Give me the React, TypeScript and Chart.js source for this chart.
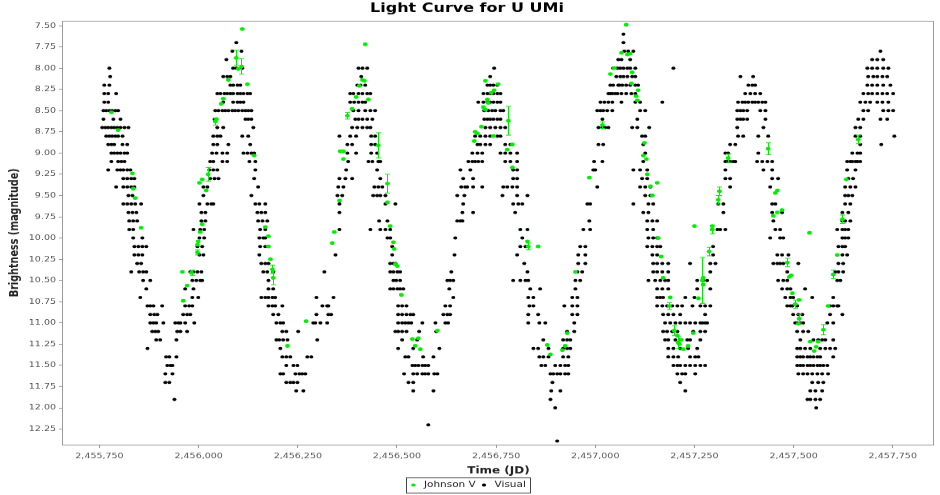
import { useEffect, useRef } from "react";
import { Chart, registerables } from "chart.js";

Chart.register(...registerables);

const CHART_TITLE = "Light Curve for U UMi";
const X_TITLE = "Time (JD)";
const Y_TITLE = "Brightness (magnitude)";
const SERIES_NAMES = ["Johnson V", "Visual"];
const X_RANGE = [2455658, 2457854];
const Y_RANGE = [7.442, 12.433];
const X_TICKS = [2455750, 2456000, 2456250, 2456500, 2456750, 2457000, 2457250, 2457500, 2457750];
const Y_TICKS = [7.5, 7.75, 8.0, 8.25, 8.5, 8.75, 9.0, 9.25, 9.5, 9.75, 10.0, 10.25, 10.5, 10.75, 11.0, 11.25, 11.5, 11.75, 12.0, 12.25];

type Row = [number, number[]];

// Visual estimates: [magnitude, [JD, ...]]
const visualCycle1: Row[] = [
  [8.0, [2455775]],
  [8.1, [2455777]],
  [8.2, [2455762, 2455775]],
  [8.3, [2455762, 2455772, 2455792]],
  [8.4, [2455762, 2455772]],
  [8.5, [2455760, 2455767, 2455775, 2455782, 2455790, 2455797]],
  [8.6, [2455760, 2455785, 2455803]],
  [8.7, [2455757, 2455765, 2455772, 2455780, 2455787, 2455795, 2455803, 2455813, 2455823]],
  [8.8, [2455767, 2455775, 2455782, 2455790, 2455797, 2455808]],
  [8.9, [2455772, 2455780, 2455787, 2455808, 2455820]],
  [9.0, [2455780, 2455787, 2455795, 2455803, 2455813, 2455820]],
  [9.1, [2455780, 2455797, 2455805, 2455813]],
  [9.2, [2455772, 2455795, 2455803, 2455810, 2455820, 2455828]],
  [9.3, [2455810, 2455820, 2455830, 2455838]],
  [9.4, [2455792, 2455810, 2455820, 2455830, 2455838]],
  [9.5, [2455823, 2455833]],
  [9.6, [2455810, 2455820, 2455830, 2455840, 2455855]],
  [9.7, [2455823, 2455833, 2455843]],
  [9.8, [2455825, 2455835, 2455845]],
  [9.9, [2455825, 2455835]],
  [10.0, [2455835, 2455858]],
  [10.1, [2455838, 2455848, 2455858, 2455868]],
  [10.2, [2455838, 2455848, 2455858]],
  [10.3, [2455845, 2455855]],
  [10.4, [2455830, 2455850, 2455860, 2455868]],
  [10.5, [2455860, 2455878]],
  [10.6, [2455868]],
  [10.7, [2455853]],
  [10.8, [2455871, 2455878, 2455886, 2455908]],
  [10.9, [2455878, 2455888, 2455896]],
  [11.0, [2455878, 2455886, 2455893, 2455911]],
  [11.1, [2455883, 2455891, 2455898]],
  [11.2, [2455893, 2455903]],
  [11.3, [2455871]],
  [11.4, [2455918, 2455926]],
  [11.5, [2455921, 2455929, 2455934]],
  [11.6, [2455916, 2455934]],
  [11.7, [2455916, 2455926]],
  [11.9, [2455939]],
];

const visualCycle2: Row[] = [
  [11.0, [2455941, 2455949, 2455954, 2455966, 2455989]],
  [11.1, [2455946, 2455954, 2455971]],
  [11.2, [2455944]],
  [11.4, [2455944]],
  [10.9, [2455961, 2455971, 2455979]],
  [10.8, [2455966, 2455976, 2455984]],
  [10.7, [2455984, 2455999]],
  [10.6, [2455966, 2455987]],
  [10.5, [2455984, 2455994, 2456004, 2456009]],
  [10.4, [2455979, 2455987, 2455997, 2456007]],
  [10.2, [2456002, 2456012]],
  [10.1, [2455997, 2456009]],
  [10.0, [2456002, 2456014]],
  [9.9, [2455987, 2456004, 2456014]],
  [9.8, [2456007, 2456017]],
  [9.7, [2456007, 2456017]],
  [9.6, [2456002, 2456022, 2456032, 2456037]],
  [9.5, [2456012]],
  [9.4, [2456012, 2456022]],
  [9.3, [2456029, 2456040, 2456050]],
  [9.2, [2456027, 2456037, 2456047]],
  [9.1, [2456029, 2456037, 2456060, 2456072]],
  [9.0, [2456034, 2456045, 2456060, 2456072]],
  [8.9, [2456037, 2456047, 2456075]],
  [8.8, [2456037, 2456047, 2456055]],
  [8.7, [2456047, 2456062]],
  [8.6, [2456040]],
  [8.5, [2456042, 2456050, 2456060, 2456067, 2456075, 2456085, 2456092, 2456100, 2456110, 2456118, 2456125, 2456133]],
  [8.4, [2456062, 2456087, 2456098, 2456105, 2456113]],
  [8.3, [2456047, 2456055, 2456065, 2456072, 2456080, 2456087, 2456098, 2456105, 2456113, 2456123, 2456130]],
  [8.2, [2456080, 2456087, 2456098, 2456105]],
  [8.1, [2456062, 2456072, 2456080]],
  [8.0, [2456087, 2456095, 2456110]],
  [7.9, [2456070]],
  [7.8, [2456085, 2456108]],
  [7.7, [2456095]],
  [8.6, [2456118, 2456125, 2456133]],
  [8.7, [2456138]],
  [8.8, [2456110, 2456125]],
  [8.9, [2456130]],
  [9.0, [2456113, 2456123, 2456133, 2456140]],
  [9.1, [2456128, 2456143]],
  [9.2, [2456143]],
  [9.3, [2456140]],
  [9.4, [2456150]],
  [9.5, [2456133]],
  [9.6, [2456143, 2456153, 2456168]],
  [9.7, [2456148, 2456158, 2456168]],
  [9.8, [2456150, 2456161, 2456173]],
  [9.9, [2456155, 2456168]],
  [10.0, [2456153, 2456163, 2456168]],
  [10.1, [2456155, 2456168]],
  [10.2, [2456153]],
  [10.3, [2456158, 2456168, 2456176]],
  [10.4, [2456163, 2456173, 2456188]],
  [10.5, [2456176]],
  [10.6, [2456176, 2456188]],
  [10.7, [2456158, 2456168, 2456176, 2456186, 2456193]],
  [10.8, [2456176, 2456186, 2456193, 2456211]],
  [10.9, [2456188, 2456201]],
  [11.0, [2456196, 2456206, 2456213]],
  [11.1, [2456211, 2456221, 2456251]],
  [11.2, [2456196, 2456203, 2456213, 2456224]],
  [11.3, [2456206]],
  [11.4, [2456211, 2456221, 2456231, 2456274, 2456284]],
  [11.5, [2456221, 2456239, 2456249]],
  [11.6, [2456206, 2456213, 2456244, 2456254, 2456261, 2456269]],
  [11.7, [2456221, 2456231, 2456239, 2456249]],
  [11.8, [2456246, 2456264]],
];

const visualCycle3: Row[] = [
  [11.0, [2456289, 2456294, 2456307, 2456324]],
  [11.2, [2456299]],
  [10.9, [2456297, 2456327, 2456334]],
  [10.8, [2456312, 2456324, 2456327]],
  [10.7, [2456297, 2456340]],
  [10.4, [2456317]],
  [10.2, [2456345]],
  [9.9, [2456355]],
  [9.7, [2456355]],
  [9.6, [2456355]],
  [9.5, [2456350, 2456362]],
  [9.4, [2456352, 2456365]],
  [9.3, [2456355, 2456370, 2456387]],
  [9.2, [2456372]],
  [9.1, [2456377, 2456428, 2456438, 2456453, 2456458]],
  [9.0, [2456375, 2456397, 2456435, 2456450]],
  [8.9, [2456375, 2456387, 2456435, 2456445]],
  [8.8, [2456355, 2456382, 2456397, 2456435, 2456445]],
  [8.7, [2456387, 2456400, 2456413, 2456425, 2456433]],
  [8.6, [2456395, 2456403, 2456413, 2456425, 2456438]],
  [8.5, [2456390, 2456403, 2456420, 2456433, 2456445]],
  [8.4, [2456382, 2456392, 2456403, 2456413, 2456420]],
  [8.3, [2456382, 2456390, 2456403, 2456413, 2456425, 2456433]],
  [8.2, [2456400, 2456408, 2456420]],
  [8.1, [2456410]],
  [8.0, [2456403, 2456413, 2456425]],
  [9.2, [2456450]],
  [9.3, [2456458]],
  [9.4, [2456443, 2456453, 2456463]],
  [9.5, [2456440, 2456450, 2456458, 2456471]],
  [9.6, [2456471, 2456496]],
  [9.8, [2456455, 2456476]],
  [9.9, [2456433, 2456458, 2456471, 2456483]],
  [10.0, [2456476, 2456483]],
  [10.1, [2456488]],
  [10.2, [2456488]],
  [10.3, [2456483, 2456491, 2456496]],
  [10.4, [2456483, 2456491, 2456501, 2456508]],
  [10.5, [2456491, 2456498, 2456508]],
  [10.6, [2456483, 2456491, 2456501, 2456508, 2456516]],
  [10.8, [2456503, 2456513, 2456524]],
  [10.9, [2456503, 2456513, 2456524, 2456534, 2456541]],
  [11.0, [2456503, 2456513, 2456521, 2456529, 2456536, 2456564, 2456597]],
  [11.1, [2456496, 2456503, 2456513, 2456524, 2456556, 2456599]],
  [11.2, [2456513, 2456551]],
  [11.3, [2456503, 2456541, 2456607]],
  [11.4, [2456521, 2456529, 2456566, 2456592]],
  [11.5, [2456539, 2456546, 2456554, 2456564, 2456571, 2456579]],
  [11.6, [2456518, 2456541, 2456551, 2456564, 2456571, 2456579, 2456594, 2456602]],
  [11.7, [2456529, 2456541]],
  [11.8, [2456541, 2456592]],
  [12.2, [2456579]],
];

const visualCycle4: Row[] = [
  [10.8, [2456622, 2456634]],
  [10.9, [2456617, 2456627, 2456634]],
  [11.0, [2456622, 2456629]],
  [10.7, [2456642]],
  [10.6, [2456632]],
  [10.5, [2456627, 2456634, 2456642]],
  [10.4, [2456637]],
  [10.2, [2456645]],
  [10.0, [2456647]],
  [9.8, [2456652, 2456660, 2456665]],
  [9.7, [2456665, 2456692]],
  [9.6, [2456667]],
  [9.5, [2456652, 2456670]],
  [9.4, [2456662, 2456672, 2456677, 2456692, 2456715]],
  [9.3, [2456667, 2456692]],
  [9.2, [2456660, 2456685]],
  [9.1, [2456680, 2456690, 2456697, 2456705, 2456715, 2456773, 2456786, 2456803]],
  [9.0, [2456690, 2456703, 2456715, 2456761, 2456773, 2456786, 2456803]],
  [8.9, [2456703, 2456710, 2456723, 2456735, 2456773, 2456786]],
  [8.8, [2456697, 2456710, 2456723, 2456735, 2456753, 2456761]],
  [8.7, [2456723, 2456735, 2456748, 2456761, 2456773]],
  [8.6, [2456720, 2456728, 2456735, 2456743, 2456753, 2456761]],
  [8.5, [2456720, 2456730, 2456740, 2456748, 2456761, 2456768]],
  [8.4, [2456705, 2456718, 2456728, 2456735, 2456743, 2456753, 2456761]],
  [8.3, [2456718, 2456728, 2456735, 2456743, 2456753, 2456761]],
  [8.2, [2456728, 2456735, 2456743, 2456753]],
  [8.1, [2456735]],
  [8.0, [2456745]],
  [9.2, [2456793, 2456803]],
  [9.3, [2456793, 2456803]],
  [9.4, [2456768, 2456778, 2456791, 2456803]],
  [9.5, [2456766, 2456803, 2456829]],
  [9.6, [2456793, 2456806, 2456816]],
  [9.7, [2456798]],
  [9.9, [2456811, 2456829]],
  [10.0, [2456816]],
  [10.1, [2456811, 2456824]],
  [10.2, [2456803]],
  [10.3, [2456821]],
  [10.4, [2456829]],
  [10.5, [2456793, 2456811, 2456824, 2456831]],
  [10.6, [2456836, 2456861]],
  [10.7, [2456831, 2456844]],
  [10.8, [2456834, 2456844]],
  [10.9, [2456831, 2456856]],
  [11.0, [2456831, 2456859, 2456874]],
  [11.2, [2456869]],
  [11.3, [2456844, 2456856, 2456882]],
  [11.4, [2456859, 2456869, 2456882]],
  [11.5, [2456864, 2456874, 2456899, 2456912]],
  [11.6, [2456887, 2456894, 2456904, 2456912]],
  [11.7, [2456892]],
  [11.8, [2456889, 2456912]],
  [11.9, [2456887]],
  [12.0, [2456899]],
  [12.39, [2456904]],
];

const visualCycle5: Row[] = [
  [11.5, [2456924, 2456932]],
  [11.6, [2456924, 2456932]],
  [11.4, [2456919, 2456932]],
  [11.3, [2456919, 2456929, 2456937]],
  [11.2, [2456919, 2456929, 2456937]],
  [11.1, [2456929, 2456947]],
  [11.0, [2456947]],
  [10.9, [2456942, 2456955]],
  [10.8, [2456922, 2456942, 2456955]],
  [10.7, [2456942, 2456955]],
  [10.6, [2456950]],
  [10.5, [2456950, 2456962]],
  [10.4, [2456955, 2456967]],
  [10.3, [2456957, 2456975]],
  [10.2, [2456957, 2456975]],
  [10.1, [2456962, 2456975]],
  [9.9, [2456970, 2456987]],
  [9.8, [2456985]],
  [9.6, [2456980, 2456987]],
  [9.4, [2457005]],
  [9.2, [2456995, 2457000]],
  [9.1, [2456997, 2457018]],
  [8.9, [2457008, 2457020]],
  [8.7, [2457008, 2457018, 2457025, 2457033]],
  [8.6, [2457018]],
  [8.5, [2457005, 2457013, 2457020, 2457030, 2457043]],
  [8.4, [2457013, 2457023, 2457033, 2457043, 2457066, 2457101, 2457113, 2457169]],
  [8.3, [2457033, 2457038, 2457043, 2457050, 2457056, 2457066, 2457078, 2457091, 2457101]],
  [8.2, [2457038, 2457045, 2457058, 2457061, 2457068, 2457078, 2457088, 2457101, 2457108]],
  [8.1, [2457053, 2457063, 2457071, 2457081, 2457093, 2457101]],
  [8.0, [2457045, 2457056, 2457063, 2457071, 2457081, 2457088, 2457101, 2457197]],
  [7.9, [2457058, 2457066, 2457088]],
  [7.8, [2457073, 2457083, 2457096]],
  [7.7, [2457071]],
  [7.6, [2457071]],
  [8.5, [2457113, 2457126]],
  [8.6, [2457106]],
  [8.7, [2457093, 2457106, 2457136]],
  [8.8, [2457118, 2457126]],
  [8.9, [2457121]],
  [9.0, [2457126]],
  [9.1, [2457121]],
  [9.2, [2457096, 2457113, 2457131]],
  [9.3, [2457118, 2457131]],
  [9.4, [2457113, 2457126, 2457139]],
  [9.5, [2457126, 2457139]],
  [9.6, [2457096, 2457134, 2457146]],
  [9.7, [2457121, 2457134]],
  [9.8, [2457131, 2457144, 2457156]],
  [9.9, [2457131, 2457146]],
  [10.0, [2457134, 2457146, 2457156]],
  [10.1, [2457131, 2457144, 2457156, 2457164]],
  [10.2, [2457144, 2457156]],
  [10.3, [2457146, 2457156, 2457169, 2457184]],
  [10.4, [2457146, 2457156, 2457169, 2457184]],
  [10.5, [2457134, 2457151, 2457164, 2457176, 2457184]],
  [10.6, [2457156, 2457169, 2457184]],
  [10.7, [2457156, 2457164, 2457171, 2457227, 2457250]],
  [10.8, [2457156, 2457169, 2457181, 2457194, 2457207, 2457219, 2457245, 2457265, 2457277, 2457290]],
  [10.9, [2457171, 2457184, 2457197, 2457214, 2457277]],
  [11.0, [2457176, 2457189, 2457202, 2457214, 2457227, 2457239, 2457252, 2457265, 2457277]],
  [11.1, [2457171, 2457181, 2457194, 2457207, 2457247, 2457265, 2457277]],
  [11.2, [2457176, 2457184, 2457202, 2457214, 2457232, 2457239, 2457265]],
  [11.3, [2457184, 2457197, 2457214, 2457234, 2457257]],
  [11.4, [2457184, 2457197, 2457209, 2457239, 2457252, 2457260]],
  [11.5, [2457197, 2457207, 2457214, 2457227, 2457239, 2457252, 2457265, 2457277]],
  [11.6, [2457207, 2457219, 2457227, 2457252]],
  [11.7, [2457214]],
  [11.8, [2457227]],
];

const visualCycle6: Row[] = [
  [11.0, [2457270, 2457282]],
  [10.6, [2457257, 2457290]],
  [10.5, [2457257, 2457272, 2457282]],
  [10.4, [2457290]],
  [10.3, [2457239, 2457290, 2457303]],
  [10.2, [2457297]],
  [10.1, [2457297]],
  [9.9, [2457295, 2457308, 2457315, 2457328]],
  [9.7, [2457323]],
  [9.6, [2457310, 2457323]],
  [9.4, [2457340]],
  [9.3, [2457328, 2457340]],
  [9.2, [2457328]],
  [9.1, [2457328, 2457333, 2457340, 2457348, 2457353]],
  [9.0, [2457328, 2457335, 2457411]],
  [8.9, [2457340, 2457353]],
  [8.8, [2457360, 2457373, 2457411, 2457436]],
  [8.7, [2457358, 2457424]],
  [8.6, [2457358, 2457366, 2457373, 2457383, 2457429]],
  [8.5, [2457358, 2457366, 2457373, 2457383, 2457416, 2457429]],
  [8.4, [2457360, 2457371, 2457378, 2457386, 2457396, 2457403, 2457411, 2457421, 2457429]],
  [8.3, [2457378, 2457391, 2457403, 2457416]],
  [8.2, [2457386, 2457396, 2457403]],
  [8.1, [2457366, 2457398]],
  [9.1, [2457408, 2457421, 2457434, 2457446]],
  [9.2, [2457424, 2457446]],
  [9.3, [2457446, 2457461]],
  [9.4, [2457441]],
  [9.6, [2457446, 2457454]],
  [9.7, [2457446, 2457471]],
  [9.8, [2457449]],
  [9.9, [2457454, 2457466]],
  [10.0, [2457441, 2457466, 2457474]],
  [10.2, [2457459, 2457471, 2457487]],
  [10.3, [2457449, 2457459, 2457466, 2457474, 2457512]],
  [10.4, [2457484]],
  [10.5, [2457461, 2457474, 2457484]],
  [10.6, [2457471, 2457484, 2457492, 2457529]],
  [10.7, [2457479, 2457492, 2457499, 2457547]],
  [10.8, [2457484, 2457492, 2457497, 2457509]],
  [10.9, [2457499, 2457512, 2457522]],
  [11.0, [2457504, 2457509, 2457517, 2457524]],
  [11.1, [2457509, 2457524, 2457537]],
  [11.2, [2457517, 2457550, 2457562, 2457572, 2457580, 2457600]],
  [11.3, [2457509, 2457517, 2457529, 2457542, 2457567, 2457580, 2457592, 2457605]],
  [11.4, [2457509, 2457517, 2457524, 2457535, 2457542, 2457550, 2457560, 2457567, 2457600]],
  [11.5, [2457509, 2457517, 2457524, 2457535, 2457542, 2457550, 2457560, 2457567, 2457575, 2457585]],
  [11.6, [2457512, 2457524, 2457535, 2457547, 2457560, 2457572, 2457587]],
  [11.7, [2457547, 2457562, 2457575]],
  [11.8, [2457542, 2457555, 2457572]],
  [11.9, [2457535, 2457542, 2457555, 2457567]],
  [12.0, [2457557]],
];

const visualCycle7: Row[] = [
  [11.0, [2457585, 2457600]],
  [10.9, [2457592, 2457623]],
  [10.8, [2457592, 2457600, 2457610, 2457613]],
  [10.7, [2457600]],
  [10.5, [2457610, 2457618]],
  [10.4, [2457605, 2457613, 2457625]],
  [10.3, [2457613, 2457625]],
  [10.2, [2457623, 2457635]],
  [10.1, [2457613, 2457623, 2457630]],
  [10.0, [2457623, 2457630, 2457638]],
  [9.9, [2457610, 2457623, 2457630, 2457638]],
  [9.8, [2457623, 2457630, 2457643]],
  [9.7, [2457623, 2457638]],
  [9.6, [2457630, 2457643]],
  [9.5, [2457630, 2457638, 2457648]],
  [9.4, [2457630, 2457643, 2457656]],
  [9.3, [2457638, 2457650]],
  [9.2, [2457635, 2457656]],
  [9.1, [2457635, 2457643, 2457648, 2457656, 2457661, 2457668]],
  [9.0, [2457648, 2457661, 2457668]],
  [8.9, [2457668, 2457721]],
  [8.8, [2457656, 2457668, 2457754]],
  [8.7, [2457656, 2457668]],
  [8.6, [2457663, 2457676, 2457719, 2457736]],
  [8.5, [2457676, 2457688, 2457726, 2457739, 2457751]],
  [8.4, [2457668, 2457681, 2457693, 2457711, 2457724, 2457739]],
  [8.3, [2457676, 2457688, 2457698, 2457711, 2457724, 2457736, 2457751]],
  [8.2, [2457686, 2457698, 2457711, 2457726, 2457744]],
  [8.1, [2457688, 2457701, 2457711, 2457724, 2457736]],
  [8.0, [2457686, 2457698, 2457711, 2457726, 2457739]],
  [7.9, [2457698, 2457711, 2457726]],
  [7.8, [2457719]],
];

// Johnson V: [JD, magnitude, uncertainty]
const johnsonV: [number, number, number][] = [
  [2455780, 8.52, 0.01], [2455797, 8.73, 0.01], [2455833, 9.24, 0.01], [2455835, 9.42, 0.01], [2455840, 9.53, 0.01], [2455855, 9.88, 0.01],
  [2455959, 10.4, 0.01], [2455982, 10.41, 0.03], [2455971, 10.56, 0.01], [2455961, 10.74, 0.01], [2455997, 10.08, 0.01], [2455999, 10.04, 0.01],
  [2456004, 9.93, 0.01], [2456009, 9.84, 0.01], [2455997, 10.17, 0.03], [2456002, 9.35, 0.01], [2456009, 9.31, 0.01], [2456024, 9.25, 0.08], [2456019, 9.44, 0.01],
  [2456110, 7.54, 0.01], [2456095, 7.88, 0.09], [2456108, 7.98, 0.09], [2456100, 8.01, 0.01], [2456075, 8.14, 0.01], [2456123, 8.19, 0.01],
  [2456062, 8.36, 0.01], [2456057, 8.42, 0.01], [2456045, 8.6, 0.01], [2456042, 8.63, 0.04], [2456140, 9.03, 0.01],
  [2456168, 9.87, 0.01], [2456176, 9.98, 0.01], [2456176, 10.1, 0.01], [2456181, 10.25, 0.01], [2456186, 10.37, 0.05], [2456188, 10.47, 0.08],
  [2456224, 11.27, 0.01], [2456271, 10.98, 0.01],
  [2456337, 10.06, 0.01], [2456342, 9.93, 0.01], [2456355, 9.56, 0.01], [2456357, 8.98, 0.01], [2456365, 9.07, 0.01], [2456365, 8.98, 0.01],
  [2456420, 7.72, 0.01], [2456413, 8.14, 0.01], [2456418, 8.15, 0.01], [2456405, 8.21, 0.01], [2456397, 8.34, 0.01], [2456428, 8.37, 0.01],
  [2456387, 8.48, 0.01], [2456375, 8.56, 0.04], [2456453, 8.91, 0.15], [2456476, 9.36, 0.11], [2456476, 9.58, 0.01], [2456483, 9.86, 0.01],
  [2456491, 10.05, 0.01], [2456493, 10.13, 0.01], [2456496, 10.31, 0.01], [2456501, 10.33, 0.01], [2456511, 10.67, 0.01],
  [2456602, 11.09, 0.01], [2456539, 11.19, 0.01], [2456554, 11.18, 0.01], [2456546, 11.27, 0.01], [2456559, 11.31, 0.01],
  [2456791, 9.17, 0.01], [2456723, 8.15, 0.01], [2456755, 8.19, 0.01], [2456745, 8.26, 0.01], [2456738, 8.29, 0.01], [2456728, 8.37, 0.01],
  [2456718, 8.46, 0.01], [2456723, 8.49, 0.01], [2456730, 8.41, 0.01], [2456781, 8.62, 0.17], [2456713, 8.69, 0.01], [2456697, 8.75, 0.01],
  [2456703, 8.77, 0.01], [2456743, 8.8, 0.01], [2456695, 8.86, 0.01], [2456791, 8.9, 0.01], [2456778, 8.96, 0.01],
  [2456829, 10.04, 0.01], [2456831, 10.1, 0.04], [2456856, 10.1, 0.01],
  [2456929, 11.12, 0.01], [2456879, 11.26, 0.01], [2456924, 11.27, 0.01], [2456917, 11.32, 0.01], [2456887, 11.37, 0.01],
  [2456950, 10.4, 0.01], [2456985, 9.29, 0.01], [2457018, 8.67, 0.04], [2457038, 8.07, 0.01], [2457048, 8.0, 0.01], [2457078, 7.49, 0.01],
  [2457066, 7.82, 0.01], [2457081, 7.84, 0.01], [2457088, 7.83, 0.01], [2457093, 8.05, 0.01], [2457091, 8.18, 0.01], [2457108, 8.26, 0.01],
  [2457103, 8.33, 0.01], [2457106, 8.38, 0.01], [2457124, 8.88, 0.01], [2457121, 9.03, 0.01], [2457129, 9.07, 0.01],
  [2457131, 9.25, 0.01], [2457156, 9.35, 0.01], [2457139, 9.39, 0.01], [2457144, 9.5, 0.01], [2457159, 10.0, 0.01], [2457166, 10.22, 0.01],
  [2457171, 10.47, 0.01], [2457189, 10.7, 0.01], [2457187, 10.8, 0.04],
  [2457199, 11.09, 0.06], [2457247, 11.12, 0.01], [2457207, 11.15, 0.01], [2457209, 11.23, 0.07], [2457212, 11.25, 0.01], [2457222, 11.31, 0.01],
  [2457234, 11.27, 0.01], [2457217, 11.2, 0.01],
  [2457260, 10.71, 0.01], [2457272, 10.47, 0.01], [2457272, 10.55, 0.01], [2457270, 10.5, 0.27], [2457287, 10.16, 0.05], [2457295, 9.86, 0.01],
  [2457295, 9.9, 0.05], [2457250, 9.86, 0.01], [2457310, 9.55, 0.05], [2457313, 9.45, 0.05], [2457335, 9.06, 0.05], [2457436, 8.95, 0.07],
  [2457459, 9.44, 0.01], [2457454, 9.47, 0.01], [2457471, 9.67, 0.01], [2457459, 9.7, 0.01], [2457449, 9.74, 0.01], [2457540, 9.94, 0.01],
  [2457484, 10.29, 0.05], [2457489, 10.46, 0.01], [2457494, 10.44, 0.01], [2457497, 10.65, 0.01], [2457504, 10.78, 0.05], [2457514, 10.73, 0.01],
  [2457514, 10.95, 0.05], [2457512, 11.01, 0.01],
  [2457542, 11.22, 0.01], [2457562, 11.22, 0.01], [2457552, 11.33, 0.01], [2457575, 11.08, 0.06], [2457557, 11.28, 0.01],
  [2457587, 10.8, 0.01], [2457600, 10.43, 0.05], [2457610, 10.2, 0.01], [2457623, 9.78, 0.05], [2457633, 9.31, 0.01], [2457663, 8.84, 0.05],
];

const GREEN = "#00ee00";
const FONT = "'DejaVu Sans', sans-serif";

const frameAndBars = {
  id: "frameAndBars",
  beforeDatasetsDraw(chart: any) {
    const { ctx, chartArea } = chart;
    ctx.save();
    ctx.strokeStyle = "#9a9a9a";
    ctx.lineWidth = 1;
    const l = Math.round(chartArea.left) - 0.5;
    const t = Math.round(chartArea.top) + 0.5;
    const r = Math.round(chartArea.right) - 0.5;
    const b = Math.round(chartArea.bottom) + 0.5;
    ctx.strokeRect(l, t, r - l, b - t);
    ctx.restore();
  },
  beforeDatasetDraw(chart: any, args: any) {
    if (args.index !== 0) return;
    const { ctx } = chart;
    const xs = chart.scales.x;
    const ys = chart.scales.y;
    ctx.save();
    ctx.strokeStyle = GREEN;
    ctx.lineWidth = 1;
    johnsonV.forEach(([jd, mag, err]) => {
      if (err < 0.03) return;
      const x = Math.round(xs.getPixelForValue(jd)) + 0.5;
      const y1 = ys.getPixelForValue(mag - err);
      const y2 = ys.getPixelForValue(mag + err);
      ctx.beginPath();
      ctx.moveTo(x, y1);
      ctx.lineTo(x, y2);
      ctx.moveTo(x - 2.5, y1);
      ctx.lineTo(x + 2.5, y1);
      ctx.moveTo(x - 2.5, y2);
      ctx.lineTo(x + 2.5, y2);
      ctx.stroke();
    });
    ctx.restore();
  },
  afterDraw(chart: any) {
    const lg = chart.legend;
    if (!lg || !lg.legendHitBoxes || !lg.legendHitBoxes.length) return;
    const hb = lg.legendHitBoxes;
    const first = hb[0];
    const last = hb[hb.length - 1];
    const left = Math.round(first.left - 2) + 0.5;
    const right = Math.round(last.left + last.width + 4) + 0.5;
    const cy = first.top + first.height / 2;
    const top = Math.round(cy - 10) + 0.5;
    const { ctx } = chart;
    ctx.save();
    ctx.strokeStyle = "#444";
    ctx.lineWidth = 1;
    ctx.strokeRect(left, top, right - left, 19);
    ctx.restore();
  },
};

function flatten(rows: Row[][]) {
  const pts: { x: number; y: number }[] = [];
  rows.forEach((set) =>
    set.forEach(([mag, jds]) => jds.forEach((jd) => pts.push({ x: jd, y: mag })))
  );
  return pts;
}

export default function App() {
  const ref = useRef<HTMLCanvasElement>(null);

  useEffect(() => {
    document.body.style.margin = "0";
    const canvas = ref.current;
    if (!canvas) return;
    const visual = flatten([
      visualCycle1, visualCycle2, visualCycle3, visualCycle4, visualCycle5, visualCycle6, visualCycle7,
    ]);
    const jv = johnsonV.map(([jd, mag]) => ({ x: jd, y: mag }));

    const chart = new Chart(canvas, {
      type: "scatter",
      data: {
        datasets: [
          {
            label: SERIES_NAMES[0],
            data: jv,
            backgroundColor: GREEN,
            borderColor: GREEN,
            pointRadius: 2.4,
            pointBorderWidth: 0,
            pointStyle: "circle",
          },
          {
            label: SERIES_NAMES[1],
            data: visual,
            backgroundColor: "#000",
            borderColor: "#000",
            pointRadius: 2,
            pointBorderWidth: 0,
            pointStyle: "circle",
          },
        ],
      },
      options: {
        responsive: false,
        animation: false,
        devicePixelRatio: 1,
        events: [],
        layout: { padding: { left: 0, right: 6, top: 0, bottom: -2.75 } },
        plugins: {
          title: {
            display: true,
            text: CHART_TITLE,
            color: "#000",
            font: { family: FONT, size: 16, weight: "bold" },
            padding: { top: 0.8, bottom: 5.9 },
          },
          legend: {
            position: "bottom",
            labels: {
              usePointStyle: true,
              pointStyle: "circle",
              boxWidth: 12,
              boxHeight: 3,
              padding: 3,
              color: "#222",
              font: { family: FONT, size: 10.5 },
            },
          },
          tooltip: { enabled: false },
        },
        scales: {
          x: {
            type: "linear",
            min: X_RANGE[0],
            max: X_RANGE[1],
            border: { display: false },
            grid: { drawOnChartArea: false, drawTicks: true, tickLength: 4, color: "#999" },
            afterBuildTicks: (s: any) => {
              s.ticks = X_TICKS.map((value) => ({ value }));
            },
            ticks: {
              maxRotation: 0,
              autoSkip: false,
              padding: 5.3,
              color: "#555",
              font: { family: FONT, size: 9.5 },
              callback: (v: any) => Number(v).toLocaleString("en-US"),
            },
            title: {
              display: true,
              text: X_TITLE,
              color: "#222",
              font: { family: FONT, size: 12, weight: "bold" },
              padding: { top: 0, bottom: 1.9 },
            },
            afterFit: (s: any) => {
              s.height = 42.25;
            },
          },
          y: {
            type: "linear",
            reverse: true,
            min: Y_RANGE[0],
            max: Y_RANGE[1],
            border: { display: false },
            grid: { drawOnChartArea: false, drawTicks: true, tickLength: 4, color: "#999" },
            afterBuildTicks: (s: any) => {
              s.ticks = Y_TICKS.map((value) => ({ value }));
            },
            ticks: {
              autoSkip: false,
              padding: 3,
              color: "#555",
              font: { family: FONT, size: 9.5 },
              callback: (v: any) => Number(v).toFixed(2),
            },
            title: {
              display: true,
              text: Y_TITLE,
              color: "#222",
              font: { family: FONT, size: 12, weight: "bold" },
              padding: { top: 7.8, bottom: 0 },
            },
            afterFit: (s: any) => {
              s.width = 63;
            },
          },
        },
      } as any,
      plugins: [frameAndBars],
    });
    return () => chart.destroy();
  }, []);

  return (
    <div style={{ position: "fixed", left: 0, top: 0, width: 940, height: 495, background: "#fff" }}>
      <canvas
        ref={ref}
        width={940}
        height={619}
        style={{ width: "940px", height: "495px", display: "block" }}
      />
    </div>
  );
}
